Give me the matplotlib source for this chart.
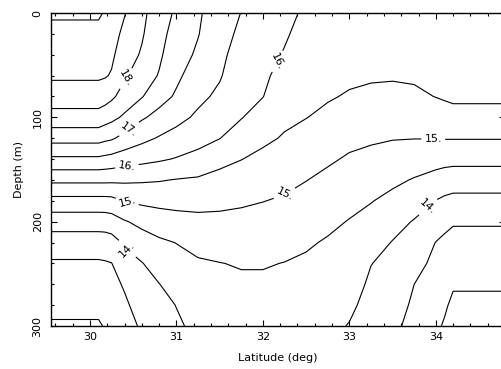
import numpy as np
import matplotlib
matplotlib.use("Agg")
import matplotlib.pyplot as plt
from matplotlib.ticker import MultipleLocator

# grid of the section: latitude (deg) and depth (m)
lat = [29.5, 30.1, 30.175, 30.25, 30.4, 30.6, 30.8, 31.0, 31.25, 31.5, 31.75, 32.0,
       32.25, 32.5, 32.75, 33.0, 33.25, 33.5, 33.75, 34.0, 34.1, 34.2, 34.8]
depth = [0, 20, 40, 60, 80, 100, 120, 140, 160, 180, 200, 220, 240, 260, 280, 300]

# temperature profiles (deg C), one per latitude, top to bottom
temp_profiles = [
    [19.05, 18.90, 18.73, 18.57, 18.26, 17.81, 17.18, 16.41, 15.61, 14.84, 14.22, 13.76, 13.44, 13.28, 13.11, 12.95],
    [19.05, 18.90, 18.73, 18.57, 18.26, 17.81, 17.18, 16.41, 15.61, 14.84, 14.22, 13.76, 13.44, 13.28, 13.11, 12.95],
    [18.97, 18.83, 18.68, 18.54, 18.20, 17.72, 17.11, 16.37, 15.61, 14.84, 14.23, 13.77, 13.46, 13.31, 13.17, 13.03],
    [18.80, 18.70, 18.59, 18.46, 18.09, 17.63, 17.06, 16.33, 15.60, 14.86, 14.27, 13.81, 13.49, 13.36, 13.24, 13.12],
    [18.53, 18.38, 18.23, 18.07, 17.80, 17.42, 16.85, 16.23, 15.59, 15.01, 14.46, 14.06, 13.80, 13.55, 13.42, 13.32],
    [18.11, 18.05, 17.95, 17.74, 17.53, 17.06, 16.63, 16.14, 15.56, 15.10, 14.63, 14.27, 13.98, 13.84, 13.70, 13.56],
    [17.75, 17.66, 17.58, 17.47, 17.18, 16.85, 16.46, 16.06, 15.53, 15.14, 14.75, 14.42, 14.20, 13.99, 13.87, 13.75],
    [17.42, 17.31, 17.20, 17.09, 16.94, 16.64, 16.33, 15.97, 15.48, 15.15, 14.83, 14.51, 14.34, 14.18, 14.01, 13.94],
    [17.06, 17.02, 16.93, 16.77, 16.61, 16.42, 16.17, 15.85, 15.44, 15.15, 14.88, 14.63, 14.45, 14.33, 14.22, 14.10],
    [16.76, 16.69, 16.61, 16.54, 16.41, 16.21, 16.01, 15.64, 15.35, 15.11, 14.89, 14.69, 14.49, 14.39, 14.30, 14.20],
    [16.49, 16.40, 16.30, 16.21, 16.11, 16.02, 15.78, 15.51, 15.28, 15.06, 14.88, 14.71, 14.53, 14.43, 14.34, 14.25],
    [16.30, 16.23, 16.15, 16.08, 16.01, 15.80, 15.59, 15.39, 15.19, 15.01, 14.84, 14.69, 14.53, 14.43, 14.34, 14.25],
    [16.12, 16.05, 15.97, 15.85, 15.72, 15.59, 15.46, 15.29, 15.12, 14.95, 14.79, 14.64, 14.49, 14.41, 14.33, 14.25],
    [15.93, 15.85, 15.76, 15.68, 15.59, 15.51, 15.34, 15.17, 15.01, 14.85, 14.70, 14.55, 14.44, 14.36, 14.28, 14.20],
    [15.90, 15.81, 15.72, 15.63, 15.54, 15.40, 15.23, 15.06, 14.90, 14.75, 14.59, 14.46, 14.37, 14.28, 14.19, 14.10],
    [15.88, 15.78, 15.68, 15.58, 15.46, 15.29, 15.11, 14.95, 14.78, 14.62, 14.48, 14.38, 14.28, 14.18, 14.08, 13.98],
    [15.86, 15.76, 15.65, 15.55, 15.41, 15.23, 15.06, 14.88, 14.70, 14.52, 14.35, 14.18, 14.01, 13.93, 13.86, 13.79],
    [15.85, 15.75, 15.64, 15.54, 15.39, 15.20, 15.02, 14.81, 14.59, 14.38, 14.16, 13.98, 13.88, 13.79, 13.69, 13.60],
    [15.83, 15.74, 15.65, 15.56, 15.42, 15.21, 15.01, 14.73, 14.47, 14.21, 13.97, 13.81, 13.65, 13.50, 13.43, 13.36],
    [15.82, 15.74, 15.66, 15.59, 15.51, 15.27, 15.01, 14.68, 14.33, 13.99, 13.74, 13.49, 13.39, 13.29, 13.19, 13.09],
    [15.81, 15.74, 15.66, 15.60, 15.55, 15.30, 15.02, 14.65, 14.28, 13.91, 13.61, 13.42, 13.31, 13.19, 13.07, 12.95],
    [15.80, 15.73, 15.66, 15.61, 15.59, 15.33, 15.02, 14.64, 14.24, 13.86, 13.54, 13.36, 13.21, 13.05, 12.90, 12.75],
    [15.80, 15.73, 15.66, 15.61, 15.59, 15.33, 15.02, 14.64, 14.24, 13.86, 13.54, 13.36, 13.21, 13.05, 12.90, 12.75],
]

plain_levels = [13.0, 13.5, 14.5, 15.5, 16.5, 17.5, 18.5, 19.0]
labelled_levels = [14.0, 15.0, 16.0, 17.0, 18.0]
label_spots = [(30.44, 64), (30.46, 112), (30.43, 148), (30.43, 181), (30.44, 225),
               (32.21, 48), (32.24, 172), (33.97, 121), (33.91, 186)]

x_ticks = [30, 31, 32, 33, 34]
y_ticks = [0, 100, 200, 300]

temp = np.array(temp_profiles).T

fig = plt.figure(figsize=(5.02, 3.69), dpi=100)
ax = fig.add_axes([0.1016, 0.1165, 0.9044, 0.8482])

ax.contour(lat, depth, temp, levels=plain_levels, colors="k", linewidths=0.8)
cs = ax.contour(lat, depth, temp, levels=labelled_levels, colors="k", linewidths=0.8)
ax.clabel(cs, fmt="%.0f.", manual=label_spots, inline=True, inline_spacing=3, fontsize=8)

ax.set_xlim(29.55, 34.8)
ax.set_ylim(300, 0)
ax.set_xticks(x_ticks)
ax.set_xticklabels([str(t) for t in x_ticks], fontsize=8)
ax.set_yticks(y_ticks)
ax.set_yticklabels([str(t) for t in y_ticks], fontsize=8, rotation=90, va="center")
ax.xaxis.set_minor_locator(MultipleLocator(0.2))
ax.yaxis.set_minor_locator(MultipleLocator(20))
ax.tick_params(which="both", direction="in", top=True, right=True, width=0.8)
ax.tick_params(which="major", length=4.5, pad=4)
ax.tick_params(which="minor", length=2.5)
ax.tick_params(axis="y", pad=6)
for s in ax.spines.values():
    s.set_linewidth(1.0)

ax.set_xlabel("Latitude (deg)", fontsize=8, labelpad=8)
ax.set_ylabel("Depth (m)", fontsize=8, labelpad=6)

fig.savefig("out.png", dpi=100)
